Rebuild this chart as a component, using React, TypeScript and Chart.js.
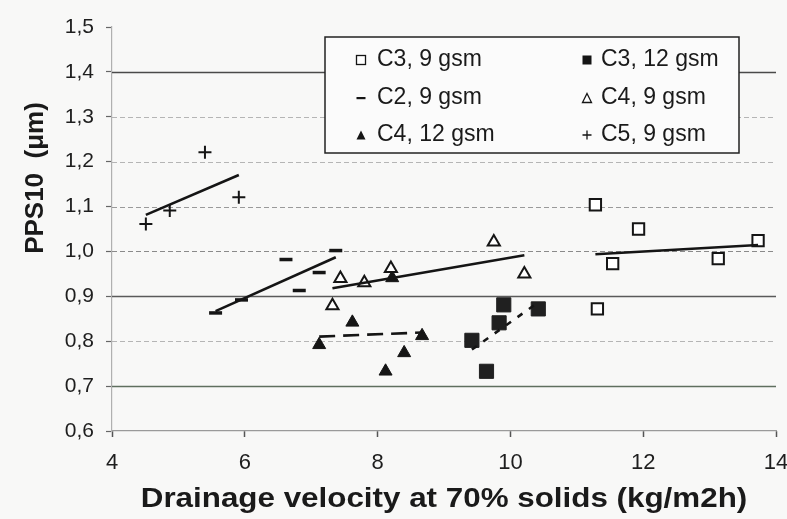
import React, { useEffect, useRef } from "react";
import { Chart, registerables } from "chart.js";

Chart.register(...registerables);

// ---------- data ----------
const seriesLabels = ["C3, 9 gsm", "C3, 12 gsm", "C2, 9 gsm", "C4, 9 gsm", "C4, 12 gsm", "C5, 9 gsm"];

const c3_9_x = [11.28, 11.93, 11.54, 11.31, 13.13, 13.73];
const c3_9_y = [1.104, 1.05, 0.973, 0.872, 0.984, 1.024];

const c3_12_x = [9.42, 9.64, 9.9, 9.83, 10.42];
const c3_12_y = [0.802, 0.733, 0.881, 0.841, 0.872];

const c2_9_x = [5.56, 5.95, 6.62, 6.82, 7.12, 7.37];
const c2_9_y = [0.863, 0.892, 0.982, 0.913, 0.953, 1.002];

const c4_9_x = [7.32, 7.44, 7.8, 8.2, 9.75, 10.21];
const c4_9_y = [0.879, 0.94, 0.93, 0.962, 1.021, 0.95];

const c4_12_x = [7.12, 7.62, 8.22, 8.12, 8.4, 8.67];
const c4_12_y = [0.792, 0.842, 0.941, 0.733, 0.774, 0.812];

const c5_9_x = [4.51, 4.87, 5.4, 5.91];
const c5_9_y = [1.061, 1.091, 1.221, 1.121];

const xTicks = [4, 6, 8, 10, 12, 14];
const yTicks = [0.6, 0.7, 0.8, 0.9, 1.0, 1.1, 1.2, 1.3, 1.4, 1.5];

const xTitle = "Drainage velocity at 70% solids (kg/m2h)";
const yTitle = "PPS10  (\u03bcm)";

// ---------- helpers ----------
function pts(xs: number[], ys: number[]) {
  return xs.map((x, i) => ({ x, y: ys[i] }));
}

// least-squares trendline over the data range (as the original spreadsheet did)
function trend(xs: number[], ys: number[]) {
  const n = xs.length;
  const mx = xs.reduce((a, b) => a + b, 0) / n;
  const my = ys.reduce((a, b) => a + b, 0) / n;
  let sxy = 0, sxx = 0;
  for (let i = 0; i < n; i++) {
    sxy += (xs[i] - mx) * (ys[i] - my);
    sxx += (xs[i] - mx) * (xs[i] - mx);
  }
  const b = sxy / sxx;
  const a = my - b * mx;
  const x0 = Math.min(...xs);
  const x1 = Math.max(...xs);
  return [{ x: x0, y: a + b * x0 }, { x: x1, y: a + b * x1 }];
}

const INK = "#151515";
const FONT = "'Liberation Sans', Arial, sans-serif";

function gridStyle(v: number): { color: string; dash: number[]; width: number } | null {
  const k = Math.round(v * 10);
  if (k === 15) return null;
  if (k === 14) return { color: "#4a4a4a", dash: [], width: 1.5 };
  if (k === 9) return { color: "#5a5a5a", dash: [], width: 1.5 };
  if (k === 7) return { color: "#5f6f5f", dash: [], width: 1.5 };
  if (k === 6) return null;
  if (k === 10) return { color: "#8a8a8a", dash: [5, 3], width: 1.2 };
  if (k === 11) return { color: "#9a9a9a", dash: [5, 3], width: 1.2 };
  return { color: "#b5b5b5", dash: [5, 3], width: 1.2 };
}

type Mark = "openRect" | "fillRect" | "dash" | "openTri" | "fillTri" | "plus";

function drawMark(ctx: CanvasRenderingContext2D, kind: Mark, x: number, y: number, s: number) {
  ctx.save();
  ctx.strokeStyle = INK;
  ctx.fillStyle = INK;
  ctx.lineWidth = 1.3;
  if (kind === "openRect") {
    ctx.fillStyle = "#fff";
    ctx.fillRect(x - s / 2, y - s / 2, s, s);
    ctx.strokeRect(x - s / 2, y - s / 2, s, s);
  } else if (kind === "fillRect") {
    ctx.fillRect(x - s / 2, y - s / 2, s, s);
  } else if (kind === "dash") {
    ctx.fillRect(x - s / 2, y - 1, s, 2.2);
  } else if (kind === "openTri" || kind === "fillTri") {
    ctx.beginPath();
    ctx.moveTo(x, y - s / 2);
    ctx.lineTo(x + s / 2, y + s / 2);
    ctx.lineTo(x - s / 2, y + s / 2);
    ctx.closePath();
    if (kind === "fillTri") ctx.fill();
    else {
      ctx.fillStyle = "#fff";
      ctx.fill();
      ctx.stroke();
    }
  } else if (kind === "plus") {
    ctx.beginPath();
    ctx.moveTo(x - s / 2, y);
    ctx.lineTo(x + s / 2, y);
    ctx.moveTo(x, y - s / 2);
    ctx.lineTo(x, y + s / 2);
    ctx.stroke();
  }
  ctx.restore();
}

const legendMarks: Mark[] = ["openRect", "fillRect", "dash", "openTri", "fillTri", "plus"];

const bgPlugin = {
  id: "bgPlugin",
  beforeDraw(chart: any) {
    const ctx = chart.ctx as CanvasRenderingContext2D;
    ctx.save();
    ctx.fillStyle = "#f8f8f7";
    ctx.fillRect(0, 0, chart.width, chart.height);
    ctx.restore();
  },
  beforeDatasetsDraw(chart: any) {
    const ctx = chart.ctx as CanvasRenderingContext2D;
    const { left, right } = chart.chartArea;
    const ys = chart.scales.y;
    ctx.save();
    for (const v of yTicks) {
      const st = gridStyle(v);
      if (!st) continue;
      const py = Math.round(ys.getPixelForValue(v)) + 0.5;
      ctx.beginPath();
      ctx.strokeStyle = st.color;
      ctx.lineWidth = st.width;
      ctx.setLineDash(st.dash);
      ctx.moveTo(left, py);
      ctx.lineTo(right, py);
      ctx.stroke();
    }
    ctx.restore();
  },
  afterDraw(chart: any) {
    const ctx = chart.ctx as CanvasRenderingContext2D;
    const { left, right, top } = chart.chartArea;
    // legend box
    const bx = left + 213, by = top + 10, bw = 414, bh = 116;
    ctx.save();
    ctx.fillStyle = "#fbfbfb";
    ctx.fillRect(bx, by, bw, bh);
    ctx.strokeStyle = "#222";
    ctx.lineWidth = 1.5;
    ctx.setLineDash([]);
    ctx.strokeRect(bx, by, bw, bh);
    ctx.font = `23px ${FONT}`;
    ctx.fillStyle = "#1a1a1a";
    ctx.textBaseline = "middle";
    ctx.textAlign = "left";
    const rowY = [by + 22, by + 60, by + 97];
    const colMark = [bx + 36, bx + 262];
    const colText = [bx + 52, bx + 276];
    for (let i = 0; i < seriesLabels.length; i++) {
      const r = Math.floor(i / 2);
      const c = i % 2;
      const kind = legendMarks[i];
      drawMark(ctx, kind, colMark[c], rowY[r] + 1, 9);
      ctx.fillText(seriesLabels[i], colText[c], rowY[r] + 1);
    }
    ctx.restore();

    // y-axis title
    ctx.save();
    ctx.translate(36, 178);
    ctx.rotate(-Math.PI / 2);
    ctx.textAlign = "center";
    ctx.textBaseline = "middle";
    ctx.font = `bold 26px ${FONT}`;
    ctx.fillStyle = "#1a1a1a";
    ctx.fillText(yTitle, 0, 0);
    ctx.restore();

    // x-axis title (slightly wide lettering as in the scan)
    ctx.save();
    ctx.translate((left + right) / 2, 499);
    ctx.scale(1.12, 1);
    ctx.textAlign = "center";
    ctx.textBaseline = "middle";
    ctx.font = `bold 28px ${FONT}`;
    ctx.fillStyle = "#1a1a1a";
    ctx.fillText(xTitle, 0, 0);
    ctx.restore();
  },
};

export default function App() {
  const ref = useRef<HTMLCanvasElement | null>(null);

  useEffect(() => {
    document.body.style.margin = "0";
    document.body.style.background = "#f8f8f7";
    const canvas = ref.current;
    if (!canvas) return;

    const scatterCommon = { showLine: false };
    const trendCommon = {
      type: "line" as const,
      borderColor: INK,
      borderWidth: 2.6,
      pointRadius: 0,
      fill: false,
      tension: 0,
    };

    const chart = new Chart(canvas, {
      type: "scatter",
      data: {
        datasets: [
          { ...trendCommon, label: "t1", data: trend(c3_9_x, c3_9_y) },
          { ...trendCommon, label: "t2", data: trend(c3_12_x, c3_12_y), borderDash: [6, 8] },
          { ...trendCommon, label: "t3", data: trend(c2_9_x, c2_9_y) },
          { ...trendCommon, label: "t4", data: trend(c4_9_x, c4_9_y) },
          { ...trendCommon, label: "t5", data: trend(c4_12_x, c4_12_y), borderDash: [16, 8] },
          { ...trendCommon, label: "t6", data: trend(c5_9_x, c5_9_y) },
          {
            ...scatterCommon, label: seriesLabels[0], data: pts(c3_9_x, c3_9_y),
            pointStyle: "rect", pointRadius: 8, backgroundColor: "#fff", borderColor: INK, borderWidth: 2,
          },
          {
            ...scatterCommon, label: seriesLabels[1], data: pts(c3_12_x, c3_12_y),
            pointStyle: "rect", pointRadius: 10, backgroundColor: "#202020", borderColor: "#202020", borderWidth: 1,
          },
          {
            ...scatterCommon, label: seriesLabels[2], data: pts(c2_9_x, c2_9_y),
            pointStyle: "line", pointRadius: 6.5, backgroundColor: INK, borderColor: INK, borderWidth: 3.5,
          },
          {
            ...scatterCommon, label: seriesLabels[3], data: pts(c4_9_x, c4_9_y),
            pointStyle: "triangle", pointRadius: 7, backgroundColor: "#fff", borderColor: INK, borderWidth: 2,
          },
          {
            ...scatterCommon, label: seriesLabels[4], data: pts(c4_12_x, c4_12_y),
            pointStyle: "triangle", pointRadius: 7.5, backgroundColor: INK, borderColor: INK, borderWidth: 1,
          },
          {
            ...scatterCommon, label: seriesLabels[5], data: pts(c5_9_x, c5_9_y),
            pointStyle: "cross", pointRadius: 6.5, backgroundColor: INK, borderColor: INK, borderWidth: 2,
          },
        ],
      },
      options: {
        animation: false,
        responsive: false,
        maintainAspectRatio: false,
        devicePixelRatio: 1,
        layout: { padding: { top: 27, right: 9, left: 0, bottom: 0 } },
        plugins: {
          legend: { display: false },
          tooltip: { enabled: false },
          title: { display: false },
        },
        scales: {
          x: {
            type: "linear",
            min: 4,
            max: 14,
            afterBuildTicks: (scale: any) => {
              scale.ticks = xTicks.map((v) => ({ value: v }));
            },
            afterFit: (scale: any) => {
              scale.height = 88;
              scale.paddingLeft = 0;
              scale.paddingRight = 0;
            },
            ticks: {
              color: "#1e1e1e",
              font: { size: 22, family: FONT },
              padding: 13,
              maxRotation: 0,
              autoSkip: false,
            },
            grid: {
              drawOnChartArea: false,
              drawTicks: true,
              tickLength: 6,
              tickColor: "#555",
              tickWidth: 1.5,
            },
            border: { display: true, color: "#9a9a9a", width: 1.2, dash: [5, 3] },
            title: { display: false },
          },
          y: {
            type: "linear",
            min: 0.6,
            max: 1.5,
            afterBuildTicks: (scale: any) => {
              scale.ticks = yTicks.map((v) => ({ value: v }));
            },
            afterFit: (scale: any) => {
              scale.width = 112;
              scale.paddingTop = 0;
              scale.paddingBottom = 0;
            },
            ticks: {
              color: "#1e1e1e",
              font: { size: 21, family: FONT },
              padding: 12,
              callback: (v: any) => Number(v).toFixed(1).replace(".", ","),
            },
            grid: {
              drawOnChartArea: false,
              drawTicks: true,
              tickLength: 6,
              tickColor: "#666",
              tickWidth: 1.2,
            },
            border: { display: true, color: "#b0b0b0", width: 1.2, dash: [4, 3] },
          },
        },
      },
      plugins: [bgPlugin],
    } as any);

    return () => chart.destroy();
  }, []);

  return (
    <div style={{ width: 787, height: 519, background: "#f8f8f7" }}>
      <canvas ref={ref} width={787} height={519} style={{ display: "block", width: 787, height: 519 }} />
    </div>
  );
}
